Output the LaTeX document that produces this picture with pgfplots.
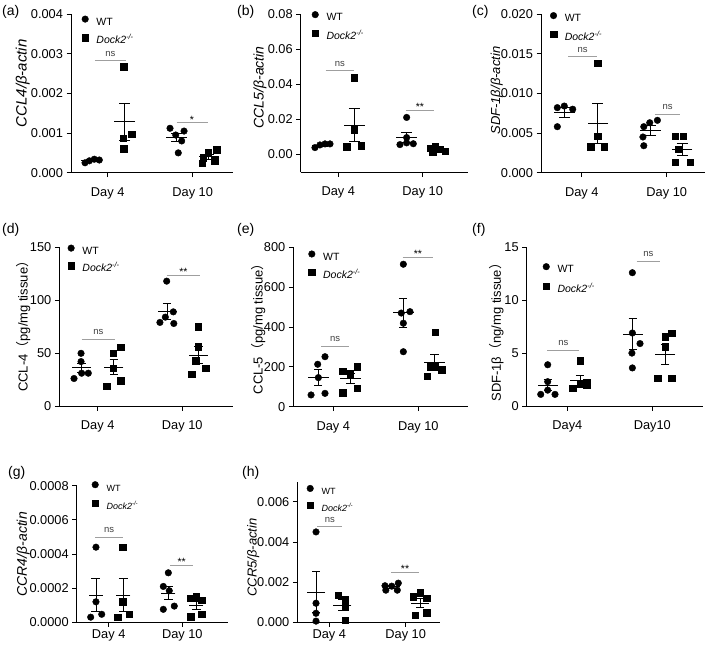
\documentclass[border=0pt]{standalone}
\usepackage{fontspec}
\setmainfont{Liberation Sans}
\newfontfamily\cjk{Noto Sans CJK SC}
\usepackage{pgfplots}
\pgfplotsset{compat=1.18}
\newcommand{\fs}[1]{\fontsize{#1}{#1}\selectfont}
\newcommand{\dock}{\textit{Dock2}\textsuperscript{\textit{-/-}}}
\pgfplotsset{
  panel/.style={
    scale only axis, clip=false, anchor=south west,
    axis lines=left, axis line style={-, line width=0.9pt},
    tick align=outside, major tick length=4.5pt,
    every tick/.style={black, line width=0.9pt},
    xtick={1,2}, xticklabels={Day 4, Day 10},
    ticklabel style={font=\fs{12.8}},
    scaled y ticks=false,
    yticklabel style={/pgf/number format/assume math mode=true, /pgf/number format/fixed, /pgf/number format/fixed zerofill},
    ylabel style={anchor=center, font=\fs{13}},
    legend cell align=left,
    legend style={draw=none, fill=none, inner sep=0pt, anchor=north west, row sep=5.5pt, column sep=7pt, font=\fs{10.5},
      nodes={inner sep=1pt, text height=7.5pt, text depth=2.5pt}},
  },
  wt/.style={only marks, mark=*, mark size=3.3pt, black,
    legend image code/.code={\draw[##1] plot coordinates {(0pt,3.8pt)};}},
  ko/.style={only marks, mark=square*, mark size=3.2pt, black,
    legend image code/.code={\draw[##1] plot coordinates {(0pt,3.8pt)};}},
  msem/.style 2 args={forget plot, only marks, mark=-, mark size=#1, mark options={line width=0.9pt, black}, black,
    error bars/.cd, y dir=both, y explicit, error bar style={line width=0.9pt, black},
    error mark options={rotate=90, mark size=#2, line width=0.9pt, black}},
  sig/.style={forget plot, gray!75, line width=0.8pt},
}
\tikzset{
  ns/.style={font=\fs{9.5}, text=black!75, anchor=base, yshift=4.5pt, inner sep=0pt},
  st/.style={font=\fs{10.5}, anchor=base, yshift=-0.5pt, inner sep=0pt},
  plab/.style={anchor=west, font=\fs{14}, inner sep=0pt},
}
\begin{document}
\begin{tikzpicture}
\useasboundingbox (0,0) rectangle (709pt,-646pt);
\node[plab] at (2pt,-12pt) {(a)};
\node[plab] at (237pt,-12pt) {(b)};
\node[plab] at (472pt,-12pt) {(c)};
\node[plab] at (2pt,-230pt) {(d)};
\node[plab] at (237pt,-230pt) {(e)};
\node[plab] at (472pt,-230pt) {(f)};
\node[plab] at (8pt,-473pt) {(g)};
\node[plab] at (242pt,-473pt) {(h)};

% (a)
\begin{axis}[panel, at={(71pt,-172.7pt)}, width=162pt, height=158.7pt,
  xmin=0.568, xmax=2.474, ymin=0, ymax=0.004, xticklabel style={yshift=-6.5pt},
  ytick={0,0.001,0.002,0.003,0.004}, yticklabel style={/pgf/number format/precision=3},
  ylabel={\textit{CCL4/β-actin}}, ylabel style={font=\fs{15}, at={(axis description cs:-0.298,0.563)}},
  legend style={at={(axis description cs:0.066,0.99)}}]
\addplot[wt] coordinates {(0.733,0.00025)(0.784,0.00030)(0.842,0.00034)(0.901,0.00032)
  (1.733,0.00112)(1.898,0.00105)(1.80,0.00095)(1.87,0.00080)(1.83,0.00050)};
\addlegendentry{WT}
\addplot[ko] coordinates {(1.19,0.00267)(1.18,0.00087)(1.28,0.00097)(1.19,0.00061)
  (2.28,0.00058)(2.18,0.00050)(2.12,0.00038)(2.11,0.00024)(2.26,0.00030)};
\addlegendentry{\dock}
\addplot[msem={10.3pt}{5.5pt}] coordinates {(0.81,0.000303) +- (0,0.00002) (1.2,0.00128) +- (0,0.00047)
  (1.81,0.000884) +- (0,0.0001) (2.19,0.0004) +- (0,0.00006)};
\addplot[sig] coordinates {(0.85,0.00282)(1.215,0.00282)};
\addplot[sig] coordinates {(1.81,0.00126)(2.176,0.00126)};
\node[ns] at (axis cs:1.03,0.00282) {ns};
\node[st] at (axis cs:1.99,0.00126) {*};
\end{axis}

% (b)
\begin{axis}[panel, at={(300.7pt,-172.3pt)}, width=167.3pt, height=158.3pt,
  xmin=0.555, xmax=2.537, ymin=-0.0103, ymax=0.08, xticklabel style={yshift=-6.5pt},
  ytick={0,0.02,0.04,0.06,0.08}, yticklabel style={/pgf/number format/precision=2},
  ylabel={\textit{CCL5/β-actin}}, ylabel style={font=\fs{14}, at={(axis description cs:-0.243,0.537)}},
  legend style={at={(axis description cs:0.066,1.018)}}]
\addplot[wt] coordinates {(0.724,0.0038)(0.783,0.0053)(0.843,0.0059)(0.902,0.0059)
  (1.81,0.021)(1.81,0.0095)(1.731,0.0055)(1.81,0.0065)(1.889,0.006)};
\addlegendentry{WT}
\addplot[ko] coordinates {(1.186,0.0437)(1.186,0.0139)(1.10,0.0043)(1.27,0.0049)
  (2.146,0.0047)(2.086,0.0035)(2.205,0.0028)(2.264,0.0018)(2.12,0.0015)};
\addlegendentry{\dock}
\addplot[msem={10.3pt}{5.5pt}] coordinates {(0.81,0.0052) +- (0,0.0005) (1.19,0.0167) +- (0,0.0092)
  (1.81,0.0097) +- (0,0.0028) (2.17,0.0029) +- (0,0.0006)};
\addplot[sig] coordinates {(0.851,0.0477)(1.19,0.0477)};
\addplot[sig] coordinates {(1.8,0.0251)(2.134,0.0251)};
\node[ns] at (axis cs:1.02,0.0477) {ns};
\node[st] at (axis cs:1.967,0.0251) {**};
\end{axis}

% (c)
\begin{axis}[panel, at={(541pt,-172.7pt)}, width=164pt, height=158.7pt,
  xmin=0.521, xmax=2.45, ymin=0, ymax=0.02, xticklabel style={yshift=-6.5pt},
  ytick={0,0.005,0.01,0.015,0.02}, yticklabel style={/pgf/number format/precision=3},
  ylabel={\textit{SDF-1β/β-actin}}, ylabel style={font=\fs{13}, at={(axis description cs:-0.27,0.517)}},
  legend style={at={(axis description cs:0.055,1.012)}}]
\addplot[wt] coordinates {(0.713,0.0082)(0.795,0.0084)(0.894,0.0080)(0.713,0.0058)
  (1.73,0.0058)(1.80,0.0063)(1.89,0.0066)(1.72,0.0045)(1.73,0.0034)};
\addlegendentry{WT}
\addplot[ko] coordinates {(1.188,0.0138)(1.188,0.0046)(1.106,0.0033)(1.266,0.0033)
  (2.098,0.0046)(2.195,0.0046)(2.136,0.0030)(2.098,0.0013)(2.274,0.0013)};
\addlegendentry{\dock}
\addplot[msem={10.3pt}{5.5pt}] coordinates {(0.8,0.0076) +- (0,0.0006) (1.19,0.00625) +- (0,0.0025)
  (1.81,0.0053) +- (0,0.0006) (2.18,0.00296) +- (0,0.00075)};
\addplot[sig] coordinates {(0.843,0.0146)(1.176,0.0146)};
\addplot[sig] coordinates {(1.86,0.00736)(2.16,0.00736)};
\node[ns] at (axis cs:1.01,0.0146) {ns};
\node[ns] at (axis cs:2.01,0.00736) {ns};
\end{axis}

% (d)
\begin{axis}[panel, at={(59.3pt,-406pt)}, width=173.7pt, height=158.7pt,
  xmin=0.546, xmax=2.6, ymin=0, ymax=150, xticklabel style={yshift=-6.5pt},
  ytick={0,50,100,150}, yticklabel style={/pgf/number format/precision=0},
  ylabel={CCL-4{\cjk （}pg/mg tissue{\cjk ）}}, ylabel style={at={(axis description cs:-0.207,0.521)}},
  legend style={at={(axis description cs:0.048,1.017)}, row sep=4.5pt}]
\addplot[wt] coordinates {(0.803,49.8)(0.803,42)(0.72,26)(0.81,31)(0.889,31)
  (1.816,118)(1.894,89)(1.736,79)(1.80,84)(1.90,78)};
\addlegendentry{WT}
\addplot[ko] coordinates {(1.106,18.9)(1.184,35.6)(1.184,49.8)(1.272,55.5)(1.272,23.9)
  (2.189,75)(2.189,56)(2.16,43)(2.111,30)(2.276,36)};
\addlegendentry{\dock}
\addplot[msem={9.5pt}{4.2pt}] coordinates {(0.81,36) +- (0,4.5) (1.19,36.7) +- (0,7.1)
  (1.82,89.6) +- (0,7.4) (2.19,48) +- (0,8)};
\addplot[sig] coordinates {(0.811,63)(1.204,63)};
\addplot[sig] coordinates {(1.816,123.5)(2.21,123.5)};
\node[ns] at (axis cs:1.007,63) {ns};
\node[st] at (axis cs:2.013,123.5) {**};
\end{axis}

% (e)
\begin{axis}[panel, at={(293.3pt,-406.7pt)}, width=174.7pt, height=159.4pt,
  xmin=0.529, xmax=2.585, ymin=0, ymax=800, xticklabel style={yshift=-6.5pt},
  ytick={0,200,400,600,800}, yticklabel style={/pgf/number format/precision=0},
  ylabel={CCL-5{\cjk （}pg/mg tissue{\cjk ）}}, ylabel style={at={(axis description cs:-0.2,0.508)}},
  legend style={at={(axis description cs:0.086,0.98)}}]
\addplot[wt] coordinates {(0.738,59)(0.816,213)(0.902,251)(0.902,67)(0.824,146)
  (1.824,715)(1.80,470)(1.902,477)(1.824,419)(1.824,276)};
\addlegendentry{WT}
\addplot[ko] coordinates {(1.11,179)(1.196,165)(1.282,201)(1.282,92)(1.11,70)
  (2.196,375)(2.106,153)(2.196,200)(2.275,185)(2.14,200)};
\addlegendentry{\dock}
\addplot[msem={10.5pt}{4.2pt}] coordinates {(0.82,147) +- (0,38) (1.2,141) +- (0,25.6)
  (1.82,471) +- (0,71) (2.19,222.6) +- (0,39)};
\addplot[sig] coordinates {(0.855,305)(1.188,305)};
\addplot[sig] coordinates {(1.815,750)(2.176,750)};
\node[ns] at (axis cs:1.02,305) {ns};
\node[st] at (axis cs:1.995,750) {**};
\end{axis}

% (f)
\begin{axis}[panel, at={(526.7pt,-406pt)}, width=176.3pt, height=158.7pt,
  xmin=0.522, xmax=2.596, ymin=0, ymax=15, xticklabels={Day4, Day10}, xticklabel style={yshift=-6.5pt},
  ytick={0,5,10,15}, yticklabel style={/pgf/number format/precision=0},
  ylabel={SDF-1β{\cjk （}ng/mg tissue{\cjk ）}}, ylabel style={at={(axis description cs:-0.17,0.484)}},
  legend style={at={(axis description cs:0.091,0.9)}, row sep=6.5pt}]
\addplot[wt] coordinates {(0.769,3.9)(0.687,1.1)(0.855,1.1)(0.769,1.5)(0.769,2.3)
  (1.765,12.6)(1.765,6.9)(1.855,5.9)(1.76,5.0)(1.765,3.6)};
\addlegendentry{WT}
\addplot[ko] coordinates {(1.149,4.3)(1.064,1.7)(1.149,2.1)(1.228,2.2)(1.228,2.0)
  (2.149,6.55)(2.228,6.87)(2.149,5.6)(2.064,2.62)(2.228,2.62)};
\addlegendentry{\dock}
\addplot[msem={10pt}{4.2pt}] coordinates {(0.77,1.98) +- (0,0.53) (1.15,2.46) +- (0,0.47)
  (1.77,6.8) +- (0,1.5) (2.15,4.85) +- (0,0.93)};
\addplot[sig] coordinates {(0.765,5.3)(1.141,5.3)};
\addplot[sig] coordinates {(1.816,13.7)(2.09,13.7)};
\node[ns] at (axis cs:0.953,5.3) {ns};
\node[ns] at (axis cs:1.953,13.7) {ns};
\end{axis}

% (g)
\begin{axis}[panel, at={(76.7pt,-622.3pt)}, width=151.6pt, height=136.6pt,
  xmin=0.565, xmax=2.625, ymin=0, ymax=0.0008, xticklabel style={yshift=0.5pt},
  ytick={0,0.0002,0.0004,0.0006,0.0008}, yticklabel style={/pgf/number format/precision=4},
  ylabel={\textit{CCR4/β-actin}}, ylabel style={font=\fs{14}, at={(axis description cs:-0.352,0.498)}},
  legend style={at={(axis description cs:0.099,1.033)}, font=\fs{9}}]
\addplot[wt] coordinates {(0.827,0.00044)(0.827,0.00012)(0.755,0.00003)(0.905,0.000047)
  (1.81,0.00029)(1.742,0.00021)(1.823,0.000185)(1.742,0.000076)(1.891,0.000095)};
\addlegendentry{WT}
\addplot[ko] coordinates {(1.19,0.00044)(1.19,0.00012)(1.122,0.00003)(1.276,0.000047)
  (2.105,0.00014)(2.186,0.00015)(2.263,0.00013)(2.114,0.000033)(2.263,0.000047)};
\addlegendentry{\dock}
\addplot[msem={7pt}{4.5pt}] coordinates {(0.827,0.00016) +- (0,0.000096) (1.2,0.00016) +- (0,0.000096)
  (1.81,0.000171) +- (0,0.000039) (2.19,0.0001) +- (0,0.000025)};
\addplot[sig] coordinates {(0.815,0.000498)(1.198,0.000498)};
\addplot[sig] coordinates {(1.833,0.000336)(2.149,0.000336)};
\node[ns] at (axis cs:1.006,0.000498) {ns};
\node[st] at (axis cs:1.991,0.000336) {**};
\end{axis}

% (h)
\begin{axis}[panel, at={(297.3pt,-622.3pt)}, width=142.7pt, height=140.6pt,
  xmin=0.581, xmax=2.449, ymin=0, ymax=0.007, xticklabel style={yshift=0.5pt},
  ytick={0,0.002,0.004,0.006}, yticklabel style={/pgf/number format/precision=3},
  ylabel={\textit{CCR5/β-actin}}, ylabel style={font=\fs{13}, at={(axis description cs:-0.308,0.461)}},
  legend style={at={(axis description cs:0.066,0.977)}, font=\fs{9}, row sep=4pt}]
\addplot[wt] coordinates {(0.826,0.0045)(0.826,0.00095)(0.826,0.00045)(0.826,0.00006)
  (1.729,0.00182)(1.817,0.0018)(1.903,0.00195)(1.74,0.0016)(1.89,0.0016)};
\addlegendentry{WT}
\addplot[ko] coordinates {(1.118,0.00136)(1.205,0.00114)(1.205,0.00078)(1.205,0.00011)
  (2.1,0.00127)(2.187,0.00147)(2.275,0.00119)(2.122,0.00036)(2.275,0.00048)};
\addlegendentry{\dock}
\addplot[msem={9pt}{4pt}] coordinates {(0.826,0.00149) +- (0,0.00102) (1.17,0.00085) +- (0,0.00027)
  (1.81,0.00177) +- (0,0.00008) (2.19,0.00095) +- (0,0.000224)};
\addplot[sig] coordinates {(0.843,0.00476)(1.17,0.00476)};
\addplot[sig] coordinates {(1.808,0.00249)(2.174,0.00249)};
\node[ns] at (axis cs:1.006,0.00476) {ns};
\node[st] at (axis cs:1.991,0.00249) {**};
\end{axis}
\end{tikzpicture}
\end{document}
